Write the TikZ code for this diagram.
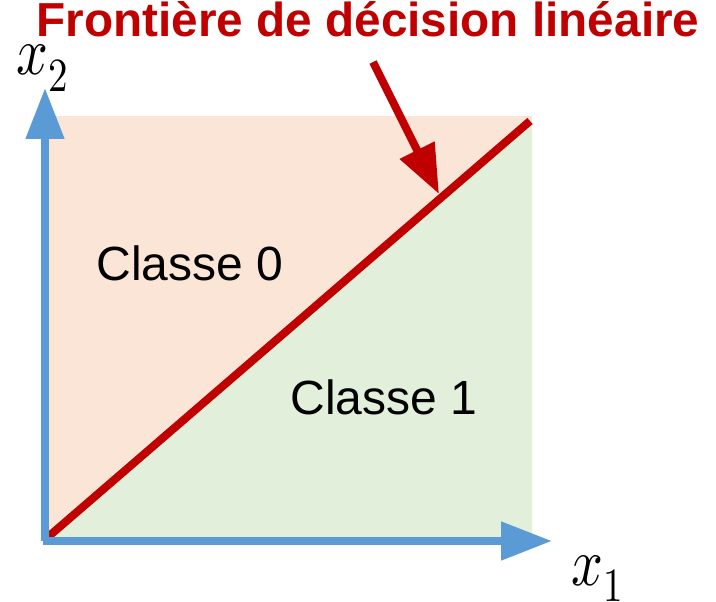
\documentclass[tikz,border=0pt]{standalone}
\usepackage{fontspec}
\usepackage{unicode-math}
\setmainfont{Liberation Sans}
\setmathfont{Latin Modern Math}
\usetikzlibrary{arrows.meta}
\definecolor{zonepink}{HTML}{FBE5D6}
\definecolor{zonegreen}{HTML}{E2EFDA}
\definecolor{axisblue}{HTML}{5B9BD5}
\definecolor{boundred}{HTML}{C00000}
\newcommand{\axisvar}[1]{\scalebox{0.82}[1]{$x_{#1}$}}
\tikzset{
  axisline/.style={draw=axisblue, line width=8pt, -{Triangle[length=51pt,width=37pt]}},
  boundline/.style={draw=boundred, line width=8pt},
  pointer/.style={draw=boundred, line width=8pt, -{Triangle[length=49pt,width=37pt]}},
  classlabel/.style={font=\fontsize{48}{52}\selectfont, inner sep=0pt, anchor=base},
  titlelabel/.style={font=\fontsize{47.7}{52}\selectfont\bfseries, text=boundred, inner sep=0pt, anchor=base, text depth=0pt},
  axislabel/.style={font=\fontsize{68}{72}\selectfont, inner sep=0pt, anchor=base west},
}
\begin{document}
\begin{tikzpicture}[x=1pt, y=-1pt]
  % canvas
  \fill[white] (0,0) rectangle (716,602);
  \useasboundingbox (0,0) rectangle (716,602);

  % key points of the plane
  \coordinate (origin) at (45,541);
  \coordinate (ytip) at (45,88);
  \coordinate (xstart) at (43,541);
  \coordinate (xtip) at (552,541);
  \coordinate (lineA) at (48,537);
  \coordinate (lineB) at (530,121);
  \coordinate (ptrstart) at (373,62);
  \coordinate (ptrtip) at (439,194);

  % the two class regions
  \fill[zonepink] (46,116) rectangle (532,541);
  \fill[zonegreen] (48,537) -- (532,121) -- (532,541) -- (48,541) -- cycle;

  % decision boundary
  \draw[boundline] (lineA) -- (lineB);

  % axes
  \draw[axisline] (origin) -- (ytip);
  \draw[axisline] (xstart) -- (xtip);

  % labels
  \node[titlelabel] (title) at (368,37) {Frontière de décision linéaire};
  \node[classlabel] (c0) at (190,280) {Classe 0};
  \node[classlabel] (c1) at (384,414) {Classe 1};
  \node[axislabel] (lx2) at (16,75) {\axisvar{2}};
  \node[axislabel] (lx1) at (571,585) {\axisvar{1}};

  % pointer from the title to the boundary
  \draw[pointer] (ptrstart) -- (ptrtip);
\end{tikzpicture}
\end{document}
